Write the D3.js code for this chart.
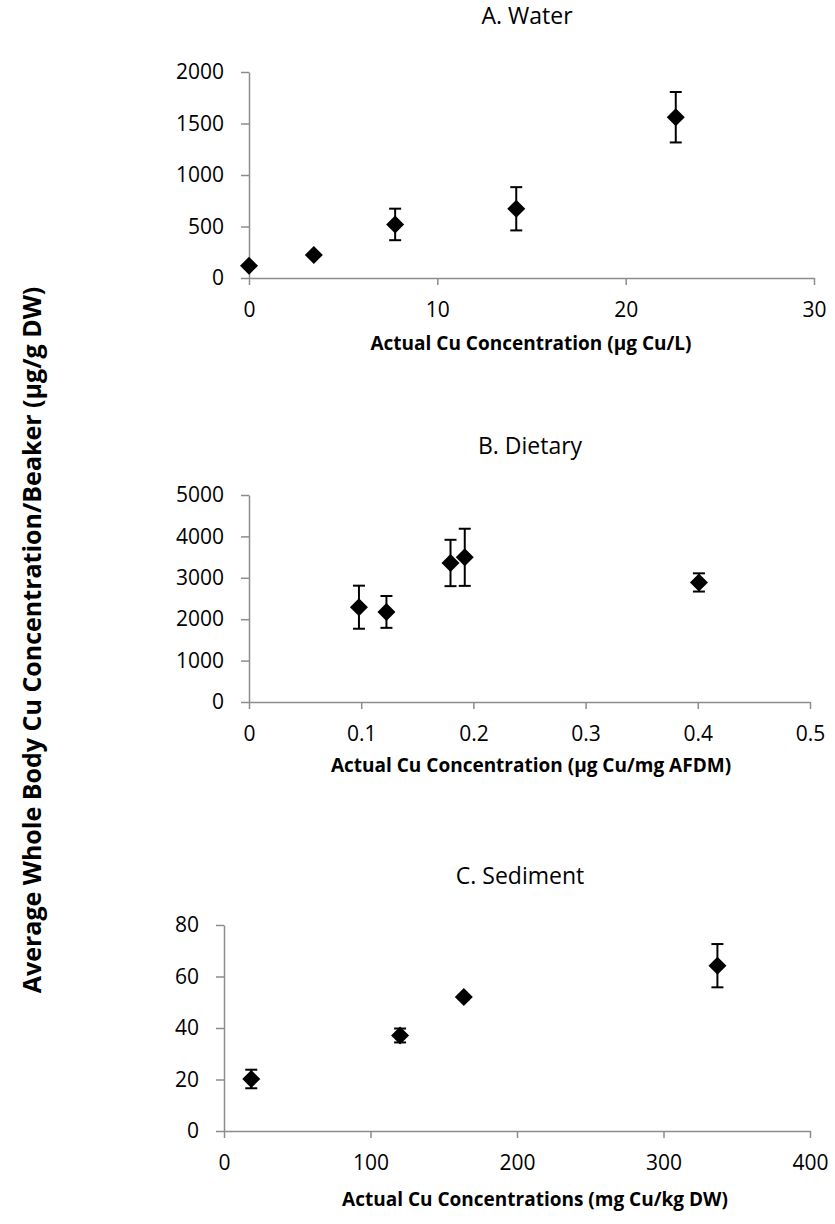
<!DOCTYPE html>
<html>
<head>
<meta charset="utf-8">
<script src="https://cdn.jsdelivr.net/npm/d3@7"></script>
<style>
  body { margin: 0; background: #fff; }
  text { font-family: "Open Sans", "Noto Sans", sans-serif; fill: #000; }
</style>
</head>
<body>
<svg id="chart" width="835" height="1224"></svg>
<script>
// A. Water exposure
const waterConc = [0, 3.44, 7.76, 14.19, 22.66];
const waterBody = [120, 223, 520, 672, 1561];
const waterErr = [12, 15, 153, 210, 245];
const waterXTicks = [0, 10, 20, 30];
const waterYTicks = [0, 500, 1000, 1500, 2000];

// B. Dietary exposure
const dietConc = [0.098, 0.1225, 0.1796, 0.1923, 0.401];
const dietBody = [2290, 2176, 3358, 3495, 2888];
const dietErr = [520, 385, 560, 690, 220];
const dietXTicks = [0, 0.1, 0.2, 0.3, 0.4, 0.5];
const dietYTicks = [0, 1000, 2000, 3000, 4000, 5000];

// C. Sediment exposure
const sedConc = [18.6, 120.2, 163.7, 336.8];
const sedBody = [20.2, 37.1, 52.0, 64.2];
const sedErr = [3.6, 2.7, 0.8, 8.4];
const sedXTicks = [0, 100, 200, 300, 400];
const sedYTicks = [0, 20, 40, 60, 80];

const panelTitles = ["A. Water", "B. Dietary", "C. Sediment"];
const xTitles = [
  "Actual Cu Concentration (µg Cu/L)",
  "Actual Cu Concentration (µg Cu/mg AFDM)",
  "Actual Cu Concentrations (mg Cu/kg DW)"
];
const yTitle = "Average Whole Body Cu Concentration/Beaker (µg/g DW)";

const panels = [
  { x: waterConc, y: waterBody, e: waterErr, xt: waterXTicks, yt: waterYTicks,
    box: { l: 249, r: 814, t: 72, b: 278, titleY: 24, titleX: 527, xTitleY: 350, xTitleX: 531 } },
  { x: dietConc, y: dietBody, e: dietErr, xt: dietXTicks, yt: dietYTicks,
    box: { l: 249, r: 810, t: 495, b: 702, titleY: 454, titleX: 530, xTitleY: 772, xTitleX: 531 } },
  { x: sedConc, y: sedBody, e: sedErr, xt: sedXTicks, yt: sedYTicks,
    box: { l: 224, r: 810, t: 925, b: 1131, titleY: 884, titleX: 520, xTitleY: 1206, xTitleX: 535 } }
];

const svg = d3.select("#chart");
const axisColor = "#8c8c8c";
const diamond = "M0,-9L9,0L0,9L-9,0Z";

panels.forEach((p, i) => {
  const b = p.box;
  const xs = d3.scaleLinear().domain(d3.extent(p.xt)).range([b.l, b.r]);
  const ys = d3.scaleLinear().domain(d3.extent(p.yt)).range([b.b, b.t]);
  const fmt = d3.format("");

  const gy = svg.append("g").attr("transform", `translate(${b.l},0)`)
    .call(d3.axisLeft(ys).tickValues(p.yt).tickFormat(fmt).tickSize(8).tickSizeOuter(0).tickPadding(17));
  const gx = svg.append("g").attr("transform", `translate(0,${b.b})`)
    .call(d3.axisBottom(xs).tickValues(p.xt).tickFormat(fmt).tickSize(7).tickSizeOuter(0).tickPadding(17));

  [gx, gy].forEach(g => {
    g.select(".domain").attr("stroke", axisColor).attr("stroke-width", 1.5);
    g.selectAll(".tick line").attr("stroke", axisColor).attr("stroke-width", 1.5);
    g.selectAll(".tick text").attr("font-size", 21).attr("fill", "#000")
      .style("font-family", '"Open Sans", sans-serif');
  });

  // panel title
  svg.append("text").attr("x", b.titleX).attr("y", b.titleY)
    .attr("text-anchor", "middle").attr("font-size", 23).text(panelTitles[i]);

  // x axis title
  svg.append("text").attr("x", b.xTitleX).attr("y", b.xTitleY)
    .attr("text-anchor", "middle").attr("font-size", 19).attr("font-weight", "bold").text(xTitles[i]);

  const pts = p.x.map((v, k) => ({ x: v, y: p.y[k], e: p.e[k] }));
  const g = svg.append("g");

  // error bars
  const eb = g.selectAll(".eb").data(pts).join("g").attr("class", "eb")
    .attr("stroke", "#000").attr("stroke-width", 2);
  eb.append("line")
    .attr("x1", d => xs(d.x)).attr("x2", d => xs(d.x))
    .attr("y1", d => ys(d.y + d.e)).attr("y2", d => ys(d.y - d.e));
  eb.append("line")
    .attr("x1", d => xs(d.x) - 6).attr("x2", d => xs(d.x) + 6)
    .attr("y1", d => ys(d.y + d.e)).attr("y2", d => ys(d.y + d.e));
  eb.append("line")
    .attr("x1", d => xs(d.x) - 6).attr("x2", d => xs(d.x) + 6)
    .attr("y1", d => ys(d.y - d.e)).attr("y2", d => ys(d.y - d.e));

  // diamond markers
  g.selectAll(".pt").data(pts).join("path").attr("class", "pt")
    .attr("d", diamond).attr("fill", "#000")
    .attr("transform", d => `translate(${xs(d.x)},${ys(d.y)})`);
});

// shared y axis title
svg.append("text")
  .attr("transform", "translate(41,640) rotate(-90)")
  .attr("text-anchor", "middle").attr("font-size", 25).attr("font-weight", "bold")
  .text(yTitle);
</script>
</body>
</html>
